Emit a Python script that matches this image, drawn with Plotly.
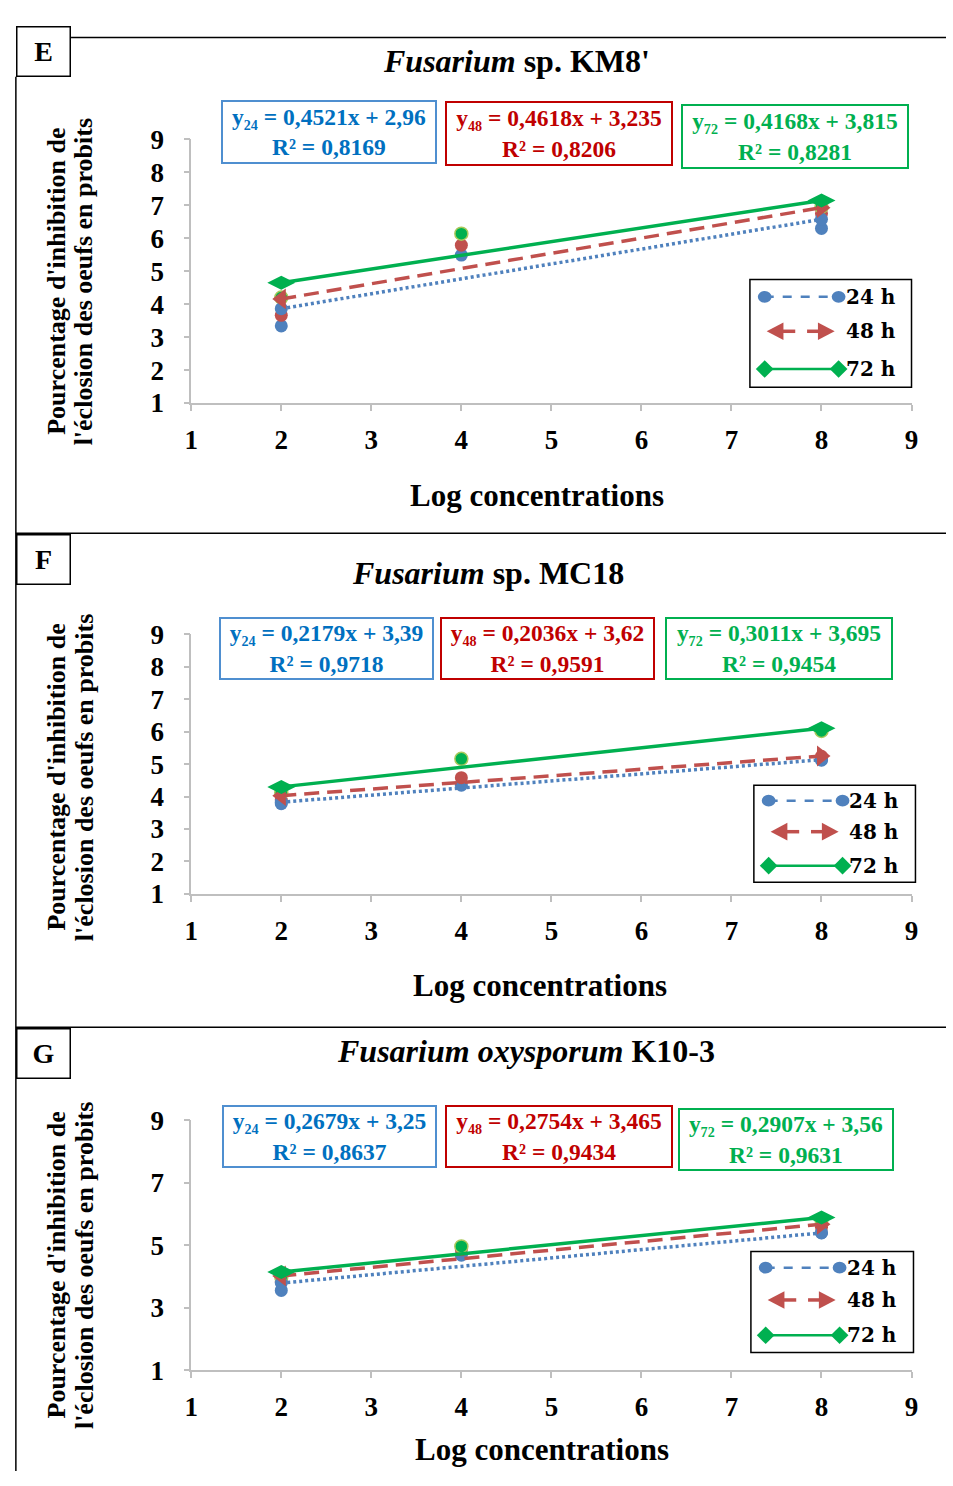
import plotly.graph_objects as go

W, H = 953, 1486

# ---------------- data ----------------
conc = [2, 4, 8]          # log concentrations where points were measured
fit_x = [2, 8]            # extent of the trend lines
hours = ["24", "48", "72"]
hours_sub = ["₂₄", "₄₈", "₇₂"]

panel_letters = ["E", "F", "G"]
panel_titles = ["<i>Fusarium</i> sp. KM8'",
                "<i>Fusarium</i> sp. MC18",
                "<i>Fusarium oxysporum</i> K10-3"]

# observed probits (24 h, 48 h, 72 h)
E_24 = [3.34, 5.49, 6.30]
E_48 = [3.66, 5.79, 6.75]
E_72 = [4.20, 6.14, 6.95]

F_24 = [3.78, 4.35, 5.12]
F_48 = [3.89, 4.58, 5.24]
F_72 = [4.12, 5.16, 6.02]

G_24 = [3.55, 4.68, 5.40]
G_48 = [3.83, 4.85, 5.57]
G_72 = [3.98, 4.96, 5.81]

# regression equations shown in the boxes
E_slopes = [0.4521, 0.4618, 0.4168]
E_inter = [2.96, 3.235, 3.815]
E_r2 = [0.8169, 0.8206, 0.8281]

F_slopes = [0.2179, 0.2036, 0.3011]
F_inter = [3.39, 3.62, 3.695]
F_r2 = [0.9718, 0.9591, 0.9454]

G_slopes = [0.2679, 0.2754, 0.2907]
G_inter = [3.25, 3.465, 3.56]
G_r2 = [0.8637, 0.9434, 0.9631]

x_ticks = [1, 2, 3, 4, 5, 6, 7, 8, 9]
y_ticks = [[1, 2, 3, 4, 5, 6, 7, 8, 9],
           [1, 2, 3, 4, 5, 6, 7, 8, 9],
           [1, 3, 5, 7, 9]]

obs = [[E_24, E_48, E_72], [F_24, F_48, F_72], [G_24, G_48, G_72]]
eqs = [(E_slopes, E_inter, E_r2), (F_slopes, F_inter, F_r2), (G_slopes, G_inter, G_r2)]

# ---------------- style / layout geometry ----------------
SERIF = "Liberation Serif"
BLUE, RED, GREEN = "#4F81BD", "#C0504D", "#00B050"
TXT = ["#0070C0", "#C00000", "#00B050"]
BOX = ["#4F8FD0", "#C00000", "#00B050"]
AXC = "#BFBFBF"

plot_px = [(187, 918, 127, 396), (187, 918, 632, 897), (187, 918, 1128, 1383)]
title_px = [(517, 47), (488, 569), (527, 1057)]
xtitle_px = [(538, 490), (541, 990), (543, 1464)]
ytitle_cy = [272, 778, 1276]
label_px = [(9, 11, 65, 63), (9, 530, 65, 582), (9, 1034, 65, 1086)]
eqbox_px = [
    [(219, 87, 435, 151), (446, 88, 674, 153), (686, 91, 914, 156)],
    [(217, 615, 432, 678), (441, 615, 656, 678), (670, 615, 898, 678)],
    [(220, 1113, 435, 1176), (446, 1113, 674, 1176), (683, 1116, 899, 1179)],
]
legend_px = [(754, 270, 918, 380), (758, 786, 922, 885), (755, 1262, 920, 1365)]


def px(x):
    return x / W


def py(y):
    return 1 - y / H


def fmt(v):
    return str(v).replace(".", ",")


fig = go.Figure()
layout = dict(width=W, height=H, margin=dict(l=0, r=0, t=0, b=0),
              paper_bgcolor="white", plot_bgcolor="white", showlegend=False)

annotations = []
shapes = []


def note(x, y, text, size, color="black", family=SERIF, xanchor="center", **kw):
    d = dict(x=px(x), y=py(y), xref="paper", yref="paper", showarrow=False, text=text,
             xanchor=xanchor, yanchor="middle",
             font=dict(family=family, size=size, color=color))
    d.update(kw)
    annotations.append(d)


for i in range(3):
    xa = "x" if i == 0 else f"x{i+1}"
    ya = "y" if i == 0 else f"y{i+1}"
    xk = "xaxis" if i == 0 else f"xaxis{i+1}"
    yk = "yaxis" if i == 0 else f"yaxis{i+1}"
    l, r, t, b = plot_px[i]
    layout[xk] = dict(domain=[px(l), px(r)], range=[1, 9], anchor=ya,
                      tickvals=x_ticks, showline=True, linecolor=AXC, linewidth=1.5,
                      ticks="outside", ticklen=6, tickcolor=AXC, tickwidth=1.5,
                      showgrid=False, zeroline=False, ticklabelstandoff=6,
                      tickfont=dict(family=SERIF, size=27, color="black", weight="bold"))
    layout[yk] = dict(domain=[py(b), py(t)], range=[1, 9], anchor=xa,
                      tickvals=y_ticks[i], showline=True, linecolor=AXC, linewidth=1.5,
                      ticks="outside", ticklen=6, tickcolor=AXC, tickwidth=1.5,
                      showgrid=False, zeroline=False, ticklabelstandoff=14,
                      tickfont=dict(family=SERIF, size=27, color="black", weight="bold"))

    s24, s48, s72 = obs[i]
    # observed points
    fig.add_trace(go.Scatter(x=conc, y=s24, mode="markers", xaxis=xa, yaxis=ya,
                             marker=dict(symbol="circle", size=13, color=BLUE)))
    fig.add_trace(go.Scatter(x=conc, y=s48, mode="markers", xaxis=xa, yaxis=ya,
                             marker=dict(symbol="circle", size=13, color=RED)))
    fig.add_trace(go.Scatter(x=conc, y=s72, mode="markers", xaxis=xa, yaxis=ya,
                             marker=dict(symbol="circle", size=13, color=GREEN,
                                         line=dict(color="#A9C95B", width=1.5))))
    # trend lines (from the displayed regression equations)
    slopes, inters, r2s = eqs[i]
    fits = [[slopes[k] * xv + inters[k] for xv in fit_x] for k in range(3)]
    fig.add_trace(go.Scatter(x=fit_x, y=fits[0], mode="lines+markers", xaxis=xa, yaxis=ya,
                             line=dict(color=BLUE, width=3.5, dash="3px,3px"),
                             marker=dict(symbol="circle", size=13, color=BLUE)))
    fig.add_trace(go.Scatter(x=fit_x, y=fits[1], mode="lines+markers", xaxis=xa, yaxis=ya,
                             line=dict(color=RED, width=3.5, dash="15px,8px"),
                             marker=dict(symbol=["triangle-left", "triangle-right"], size=18, color=RED)))
    fig.add_trace(go.Scatter(x=fit_x, y=fits[2], mode="lines+markers", xaxis=xa, yaxis=ya,
                             line=dict(color=GREEN, width=3.5),
                             marker=dict(symbol="diamond-wide", size=20, color=GREEN)))

    # panel title
    tx, ty = title_px[i]
    note(tx, ty, f"<b>{panel_titles[i]}</b>", 32)
    # x title
    xx, xy = xtitle_px[i]
    note(xx, xy, "<b>Log concentrations</b>", 31)
    # y title (two lines)
    for lx, txt in [(50, "Pourcentage d'inhibition de"), (78, "l'éclosion des oeufs en probits")]:
        note(lx, ytitle_cy[i], f"<b>{txt}</b>", 26, textangle=-90)
    # panel letter box
    x0, y0, x1, y1 = label_px[i]
    note((x0 + x1) / 2, (y0 + y1) / 2, f"<b>{panel_letters[i]}</b>", 28,
         width=x1 - x0 - 4, height=y1 - y0 - 4, borderpad=0, bordercolor="black",
         borderwidth=1.5, bgcolor="white")
    # equation boxes
    for k in range(3):
        bx0, by0, bx1, by1 = eqbox_px[i][k]
        text = (f"<b>y{hours_sub[k]} = {fmt(slopes[k])}x + {fmt(inters[k])}<br>"
                f"R² = {fmt(r2s[k])}</b>")
        note((bx0 + bx1) / 2, (by0 + by1) / 2, text, 23.5, color=TXT[k], align="center",
             width=bx1 - bx0 - 6, height=by1 - by0 - 6, borderpad=1,
             bordercolor=BOX[k], borderwidth=2, bgcolor="white")

    # legend box
    lx0, ly0, lx1, ly1 = legend_px[i]
    shapes.append(dict(type="rect", xref="paper", yref="paper", x0=px(lx0), x1=px(lx1),
                       y0=py(ly1), y1=py(ly0), line=dict(color="black", width=1.5),
                       fillcolor="white", layer="above"))
    lh = ly1 - ly0
    rows = [ly0 + 0.16 * lh, ly0 + 0.48 * lh, ly0 + 0.83 * lh]
    ca, cb = lx0 + 15, lx0 + 90
    # row 1: circles joined by a dashed line
    shapes.append(dict(type="line", xref="paper", yref="paper", x0=px(ca), x1=px(cb),
                       y0=py(rows[0]), y1=py(rows[0]), layer="above",
                       line=dict(color=BLUE, width=2.5, dash="dash")))
    for c in (ca, cb):
        shapes.append(dict(type="circle", xref="paper", yref="paper", x0=px(c - 7), x1=px(c + 7),
                           y0=py(rows[0] + 6), y1=py(rows[0] - 6), fillcolor=BLUE,
                           line=dict(color=BLUE, width=0), layer="above"))
    # row 2: two arrows
    yr = rows[1]
    shapes.append(dict(type="line", xref="paper", yref="paper", x0=px(lx0 + 32), x1=px(lx0 + 46),
                       y0=py(yr), y1=py(yr), layer="above", line=dict(color=RED, width=3.5)))
    shapes.append(dict(type="line", xref="paper", yref="paper", x0=px(lx0 + 58), x1=px(lx0 + 70),
                       y0=py(yr), y1=py(yr), layer="above", line=dict(color=RED, width=3.5)))
    shapes.append(dict(type="path", xref="paper", yref="paper", layer="above",
                       path=f"M {px(lx0+17)} {py(yr)} L {px(lx0+34)} {py(yr-9)} L {px(lx0+34)} {py(yr+9)} Z",
                       fillcolor=RED, line=dict(color=RED, width=0)))
    shapes.append(dict(type="path", xref="paper", yref="paper", layer="above",
                       path=f"M {px(lx0+86)} {py(yr)} L {px(lx0+69)} {py(yr-9)} L {px(lx0+69)} {py(yr+9)} Z",
                       fillcolor=RED, line=dict(color=RED, width=0)))
    # row 3: diamonds joined by a solid line
    yr = rows[2]
    shapes.append(dict(type="line", xref="paper", yref="paper", x0=px(ca), x1=px(cb),
                       y0=py(yr), y1=py(yr), layer="above", line=dict(color=GREEN, width=2.5)))
    for c in (ca, cb):
        shapes.append(dict(type="path", xref="paper", yref="paper", layer="above",
                           path=(f"M {px(c-9)} {py(yr)} L {px(c)} {py(yr-9)} L {px(c+9)} {py(yr)} "
                                 f"L {px(c)} {py(yr+9)} Z"),
                           fillcolor=GREEN, line=dict(color=GREEN, width=0)))
    for k in range(3):
        note(lx0 + 95, rows[k], f"<b>{hours[k]} h</b>", 20, family="DejaVu Serif", xanchor="left")

# frame lines
shapes.append(dict(type="line", xref="paper", yref="paper", x0=px(9), x1=px(9),
                   y0=py(1486), y1=py(63), line=dict(color="black", width=1.5)))
shapes.append(dict(type="line", xref="paper", yref="paper", x0=px(65), x1=px(953),
                   y0=py(23), y1=py(23), line=dict(color="black", width=1.5)))
for yy in (529, 1033):
    shapes.append(dict(type="line", xref="paper", yref="paper", x0=px(9), x1=px(953),
                       y0=py(yy), y1=py(yy), line=dict(color="black", width=1.5)))

layout["annotations"] = annotations
layout["shapes"] = shapes
fig.update_layout(**layout)
fig.write_html("out.html")
